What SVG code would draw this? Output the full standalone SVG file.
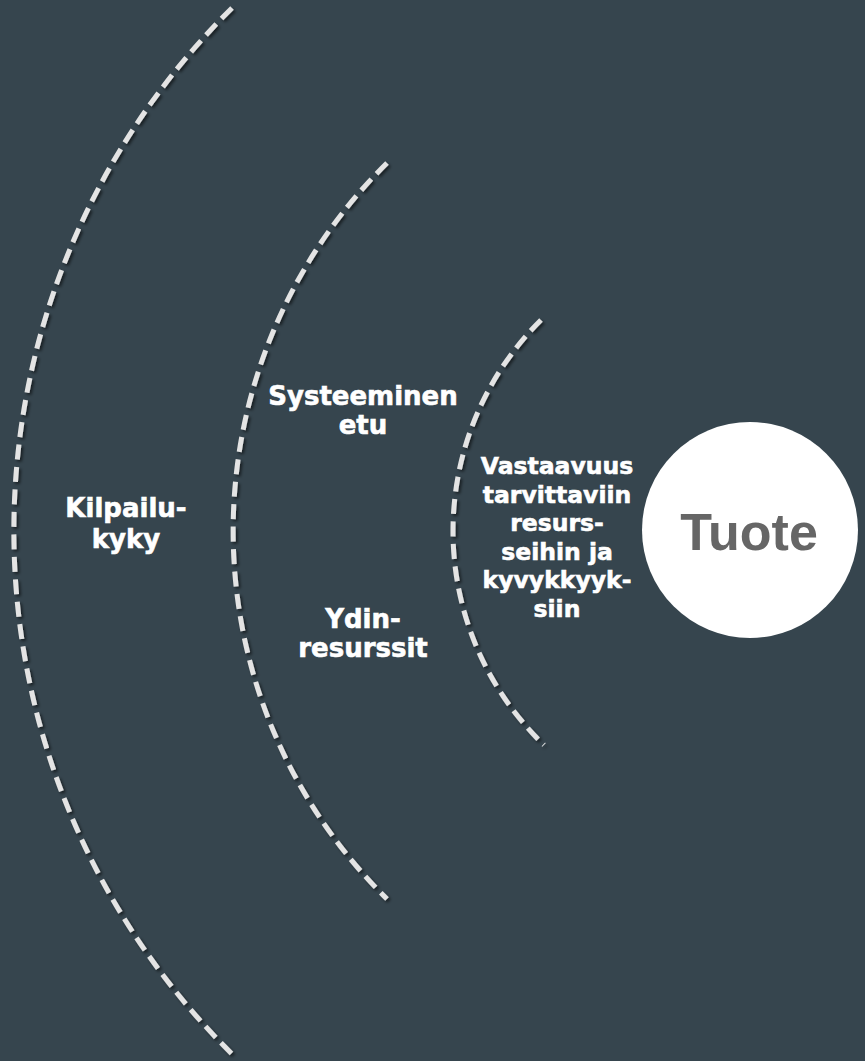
<svg xmlns="http://www.w3.org/2000/svg" width="865" height="1061" viewBox="0 0 865 1061">
  <defs>
    <filter id="shade" x="-10%" y="-10%" width="120%" height="120%">
      <feDropShadow dx="2" dy="2" stdDeviation="1.5" flood-color="#000" flood-opacity="0.55"/>
    </filter>
    <style>
      .ring { fill: none; stroke: #e4e4e4; stroke-width: 5; stroke-dasharray: 15 7.5; filter: url(#shade); }
      .lbl { font-family: "DejaVu Sans", Verdana, sans-serif; font-weight: bold; fill: #ffffff; stroke: #ffffff; stroke-width: 0.6; text-anchor: middle; }
      .big { font-size: 26px; }
      .small { font-size: 23.5px; }
      .core { font-family: "Liberation Sans", Arial, sans-serif; font-weight: bold; font-size: 52px; fill: #666666; text-anchor: middle; }
    </style>
  </defs>

  <rect width="865" height="1061" fill="#36454e"/>

  <!-- concentric dashed rings around the product -->
  <g id="connectors">
    <path class="ring" d="M 232 8 A 736 736 0 0 0 232 1054"/>
    <path class="ring" d="M 387 163 A 517 517 0 0 0 387 899"/>
    <path class="ring" d="M 541 320 A 297 297 0 0 0 544 745"/>
  </g>

  <g id="kilpailukyky">
    <text class="lbl big" x="126" y="517">Kilpailu-</text>
    <text class="lbl big" x="126" y="548">kyky</text>
  </g>

  <g id="systeeminen-etu">
    <text class="lbl big" x="363" y="405">Systeeminen</text>
    <text class="lbl big" x="363" y="434">etu</text>
  </g>

  <g id="ydinresurssit">
    <text class="lbl big" x="363" y="628">Ydin-</text>
    <text class="lbl big" x="363" y="657">resurssit</text>
  </g>

  <g id="vastaavuus">
    <text class="lbl small" x="557" y="474">Vastaavuus</text>
    <text class="lbl small" x="557" y="502.5">tarvittaviin</text>
    <text class="lbl small" x="557" y="531">resurs-</text>
    <text class="lbl small" x="557" y="559.5">seihin ja</text>
    <text class="lbl small" x="557" y="588">kyvykkyyk-</text>
    <text class="lbl small" x="557" y="616.5">siin</text>
  </g>

  <g id="tuote">
    <circle cx="750" cy="530" r="108" fill="#ffffff"/>
    <text class="core" x="749" y="550">Tuote</text>
  </g>
</svg>
